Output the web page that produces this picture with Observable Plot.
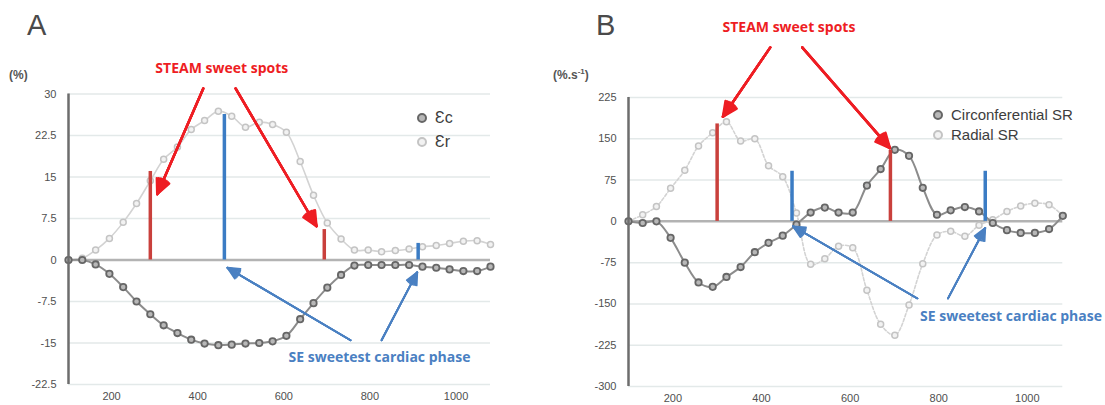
<!DOCTYPE html>
<html><head><meta charset="utf-8">
<script src="https://cdn.jsdelivr.net/npm/d3@7"></script>
<script src="https://cdn.jsdelivr.net/npm/@observablehq/plot@0.6"></script>
<style>
body{margin:0;background:#fff;}
#wrap{position:relative;width:1105px;height:405px;overflow:hidden;font-family:"Liberation Sans",Arial,sans-serif;}
.abs{position:absolute;white-space:nowrap;}
.panel{position:absolute;top:0;}
.leg{position:absolute;display:flex;align-items:center;color:#3d3d3d;white-space:nowrap;}
.leg svg{margin-right:7px;}
</style></head><body><div id="wrap"></div>
<script>
// ---- data ----
const times = [100,132,163,195,227,258,290,321,353,385,416,448,479,511,543,574,606,638,669,701,733,764,796,827,859,891,922,954,985,1017,1049,1080];
const strainCirc = [0,0,-0.8,-2.5,-4.9,-7.5,-9.8,-11.8,-13.2,-14.4,-15.1,-15.4,-15.3,-15.1,-15.0,-14.7,-13.7,-10.7,-7.8,-5.0,-2.7,-1.0,-0.9,-0.9,-0.9,-0.9,-1.2,-1.4,-1.7,-2.0,-2.0,-1.2];
const strainRad = [0,0.3,1.8,3.9,6.8,10.2,14.3,18.2,20.4,23.6,25.2,26.9,26.0,24.0,24.9,24.5,23.1,17.8,11.7,6.7,3.8,1.8,1.8,1.5,1.7,2.0,2.4,2.6,3.0,3.4,3.5,2.8];
const srCirc = [0,-3,0,-30,-75,-111,-119,-101,-83,-56,-39,-26,-6,16,25,16,16,65,95,130,119,61,12,20,26,18,-3,-16,-21,-21,-14,10];
const srRad = [0,12,27,60,93,137,161,181,146,150,101,81,15,-78,-68,-45,-48,-125,-187,-207,-152,-77,-25,-18,-27,-7,3,18,28,33,30,10];

const yTicksA = [-22.5,-15,-7.5,0,7.5,15,22.5,30];
const yTicksB = [-300,-225,-150,-75,0,75,150,225];
const xTicks = [200,400,600,800,1000];

// sweet-spot bars (time, height)
const steamBarsA = [{t:290,v:16.0},{t:694,v:5.5}];
const seBarsA = [{t:462,v:26.3},{t:912,v:3.0}];
const steamBarsB = [{t:300,v:177},{t:691,v:129}];
const seBarsB = [{t:469,v:91},{t:905,v:91}];

// annotations (data units)
const steamLabelA = [{t:456,v:34.6,label:"STEAM sweet spots"}];
const steamArrowsA = [{t1:413,v1:31.0,t2:306,v2:11.9},{t1:488,v1:31.0,t2:676,v2:6.1}];
const seLabelA = [{t:611,v:-17.6,label:"SE sweetest cardiac phase"}];
const seArrowsA = [{t1:755,v1:-14.5,t2:469,v2:-1.4},{t1:827,v1:-14.5,t2:910,v2:-2.2}];

const steamLabelB = [{t:462,v:352,label:"STEAM sweet spots"}];
const steamArrowsB = [{t1:420,v1:316,t2:313,v2:190},{t1:492,v1:316,t2:690,v2:133}];
const seLabelB = [{t:758,v:-173,label:"SE sweetest cardiac phase"}];
const seArrowsB = [{t1:752,v1:-140,t2:471,v2:-9},{t1:821,v1:-140,t2:905,v2:-12}];

// ---- colours ----
const DARK_LINE = "#8c8c8c", DARK_DOT = "#666666", DARK_FILL = "#b8b8b8";
const LIGHT_LINE = "#d3d3d3", LIGHT_DOT = "#c4c4c4";
const RED_BAR = "#c9403c", BLUE_BAR = "#3b7cc4";
const RED = "#ee1d23", BLUE = "#4a80c2";
const FONT = "Liberation Sans, Arial, sans-serif";
const headAngles = [50, 38, 26, 14];

function filledArrows(data, stroke, strokeWidth, headLength) {
  return headAngles.map(a => Plot.arrow(data, {x1: "t1", y1: "v1", x2: "t2", y2: "v2", stroke, strokeWidth, headLength, headAngle: a}));
}

function panel({width, marginRight, marginTop, marginBottom, yDomain, yTicks, dark, light,
  steamBars, seBars, steamLabel, steamArrows, seLabel, seArrows, lightDash}) {
  const data = times.map((t,i)=>({t, d: dark[i], l: light[i]}));
  return Plot.plot({
    width, height: 405,
    marginLeft: 68, marginRight, marginTop, marginBottom,
    style: {fontFamily: FONT, fontSize: "11px", color: "#505050", background: "transparent", overflow: "visible"},
    x: {domain: [100, 1080]},
    y: {domain: yDomain},
    marks: [
      Plot.ruleY(yTicks.filter(d => d !== 0), {stroke: "#e3e9e9", strokeWidth: 1.5}),
      Plot.ruleY([0], {stroke: "#b3b3b3", strokeWidth: 2.5}),
      Plot.line(data, {x: "t", y: "l", curve: "catmull-rom", stroke: LIGHT_LINE, strokeWidth: 1.6, strokeDasharray: lightDash}),
      Plot.dot(data, {x: "t", y: "l", r: 3, stroke: LIGHT_DOT, strokeWidth: 1.5, fill: "#f2f2f2"}),
      Plot.line(data, {x: "t", y: "d", curve: "catmull-rom", stroke: DARK_LINE, strokeWidth: 2}),
      Plot.dot(data, {x: "t", y: "d", r: 3.2, stroke: DARK_DOT, strokeWidth: 1.8, fill: DARK_FILL}),
      Plot.ruleX(steamBars, {x: "t", y1: 0, y2: "v", stroke: RED_BAR, strokeWidth: 3.5}),
      Plot.ruleX(seBars, {x: "t", y1: 0, y2: "v", stroke: BLUE_BAR, strokeWidth: 3.5}),
      Plot.ruleX([100], {stroke: "#6d6d6d", strokeWidth: 2.5}),
      Plot.axisY({ticks: yTicks, tickSize: 0, tickPadding: 12, tickFormat: d => String(d), fontSize: 11}),
      Plot.axisX({ticks: xTicks, tickSize: 0, tickPadding: 8, tickFormat: d => String(d), fontSize: 11}),
      ...filledArrows(steamArrows, RED, 2.4, 10),
      ...filledArrows(seArrows, BLUE, 1.8, 11),
      Plot.text(steamLabel, {x: "t", y: "v", text: "label", fill: RED, fontWeight: "bold", fontSize: 14, fontFamily: "Open Sans, sans-serif"}),
      Plot.text(seLabel, {x: "t", y: "v", text: "label", fill: BLUE, fontWeight: "bold", fontSize: 14, textAnchor: "start", fontFamily: "Open Sans, sans-serif"})
    ]
  });
}

const wrap = document.getElementById("wrap");

const pA = panel({width: 560, marginRight: 70, marginTop: 93.5, marginBottom: 21,
  yDomain: [-22.5, 30], yTicks: yTicksA, dark: strainCirc, light: strainRad,
  steamBars: steamBarsA, seBars: seBarsA, steamLabel: steamLabelA, steamArrows: steamArrowsA,
  seLabel: seLabelA, seArrows: seArrowsA, lightDash: null});
pA.classList.add("panel"); pA.style.left = "0px";
wrap.appendChild(pA);

const pB = panel({width: 545, marginRight: 42.7, marginTop: 97, marginBottom: 19,
  yDomain: [-300, 225], yTicks: yTicksB, dark: srCirc, light: srRad,
  steamBars: steamBarsB, seBars: seBarsB, steamLabel: steamLabelB, steamArrows: steamArrowsB,
  seLabel: seLabelB, seArrows: seArrowsB, lightDash: "3,2"});
pB.classList.add("panel"); pB.style.left = "560px";
wrap.appendChild(pB);

function addText(html, left, top, css) {
  const d = document.createElement("div");
  d.className = "abs"; d.innerHTML = html;
  d.style.left = left + "px"; d.style.top = top + "px";
  Object.assign(d.style, css || {});
  wrap.appendChild(d);
}
addText("A", 27, 9, {fontSize: "29px", color: "#4a4a4a", fontWeight: "300"});
addText("B", 596, 9, {fontSize: "29px", color: "#4a4a4a", fontWeight: "300"});
addText("(%)", 9, 68, {fontSize: "12px", color: "#555", fontWeight: "bold"});
addText("(%.s<sup style='font-size:8px'>-1</sup>)", 553, 67, {fontSize: "12px", color: "#555", fontWeight: "bold"});

function legendItem(label, left, top, stroke, fill, fontSize) {
  const d = document.createElement("div");
  d.className = "leg";
  d.style.left = left + "px"; d.style.top = top + "px"; d.style.fontSize = fontSize + "px";
  d.innerHTML = `<svg width="12" height="12"><circle cx="6" cy="6" r="4" fill="${fill}" stroke="${stroke}" stroke-width="2"/></svg><span>${label}</span>`;
  wrap.appendChild(d);
}
const legendA = ["Ɛc", "Ɛr"];
const legendB = ["Circonferential SR", "Radial SR"];
legendItem(legendA[0], 416, 109, DARK_DOT, DARK_FILL, 16);
legendItem(legendA[1], 416, 133, LIGHT_DOT, "#f2f2f2", 16);
legendItem(legendB[0], 932, 106, DARK_DOT, DARK_FILL, 15);
legendItem(legendB[1], 932, 126, LIGHT_DOT, "#f2f2f2", 15);
</script></body></html>
